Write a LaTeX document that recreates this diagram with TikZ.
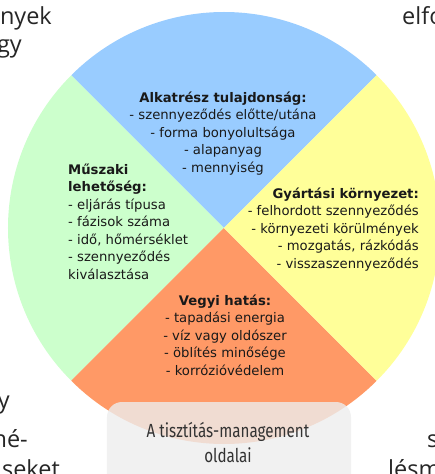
\documentclass[tikz,border=0pt]{standalone}
\usepackage{fontspec}
\setmainfont{DejaVu Sans}
\newfontfamily\lapfont{Open Sans}
\newfontfamily\cimfont[FakeStretch=0.8]{Fira Sans}
\definecolor{kek}{HTML}{99CCFF}
\definecolor{zold}{HTML}{CCFFCC}
\definecolor{sarga}{HTML}{FFFF99}
\definecolor{narancs}{HTML}{FF9966}
\definecolor{szurke}{HTML}{EDEDED}
\tikzset{
  blokk/.style={font=\fontsize{13.2}{17.5}\selectfont, text=black!90, inner sep=0pt},
  lapszoveg/.style={font=\lapfont\fontsize{23.5}{28}\selectfont, text=black!85, inner sep=0pt}
}
\begin{document}
\begin{tikzpicture}[x=1pt,y=1pt]
      \useasboundingbox (-224,-246) rectangle (211,228);
      \coordinate (k) at (0,0);
      % negy negyed
      \fill[kek] (k) -- (45:216pt) arc (45:135:216pt) -- cycle;
      \fill[zold] (k) -- (135:216pt) arc (135:225:216pt) -- cycle;
      \fill[narancs] (k) -- (225:216pt) arc (225:315:216pt) -- cycle;
      \fill[sarga] (k) -- (315:216pt) arc (315:405:216pt) -- cycle;
      \node[blokk, align=center, anchor=base] (alkatresz) at (-1,56)
        {\textbf{Alkatrész tulajdonság:}\\- szennyeződés előtte/utána\\- forma bonyolultsága\\- alapanyag\\- mennyiség};
      \node[blokk, align=left, anchor=base west] (muszaki) at (-156,-51)
        {\textbf{Műszaki}\\\textbf{lehetőség:}\\- eljárás típusa\\- fázisok száma\\- idő, hőmérséklet\\- szennyeződés\\kiválasztása};
      \node[blokk, align=right, anchor=base east] (gyartasi) at (195,-40)
        {\textbf{Gyártási környezet:}\\- felhordott szennyeződés\\- környezeti körülmények\\- mozgatás, rázkódás\\- visszaszennyeződés};
      \node[blokk, align=center, anchor=base] (vegyi) at (1,-147)
        {\textbf{Vegyi hatás:}\\- tapadási energia\\- víz vagy oldószer\\- öblítés minősége\\- korrózióvédelem};
      % cimke alul
      \fill[szurke, fill opacity=0.8, rounded corners=15pt] (-117,-265) rectangle (127,-174);
      \node[font=\cimfont\fontsize{19}{25}\selectfont, text=black!80, align=center, anchor=base, inner sep=0pt] (oldalai) at (4,-234)
        {A tisztítás-management\\oldalai};
      % lap szovege a szeleken
      \node[lapszoveg, anchor=base east] (nyek) at (-172,203) {nyek};
      \node[lapszoveg, anchor=base east] (gy) at (-202,175) {gy};
      \node[lapszoveg, anchor=base west] (elfo) at (178,203) {elfo};
      \node[lapszoveg, anchor=base east] (y) at (-214,-180) {y};
      \node[lapszoveg, anchor=base east] (ne) at (-196,-219) {né-};
      \node[lapszoveg, anchor=base east] (seket) at (-164,-249) {seket};
      \node[lapszoveg, anchor=base west] (s) at (203,-219) {s};
      \node[lapszoveg, anchor=base west] (lesm) at (164,-249) {lésm};
    \end{tikzpicture}
\end{document}
